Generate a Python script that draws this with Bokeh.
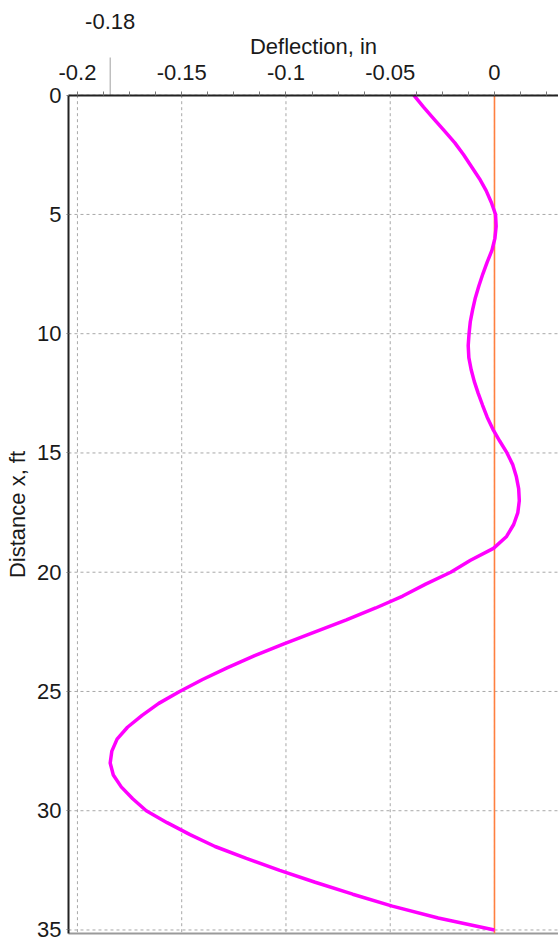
from bokeh.plotting import figure
from bokeh.models import (Range1d, FixedTicker, Label, ColumnDataSource)
from bokeh.embed import file_html
from bokeh.resources import INLINE

# ---- data ----
depth_ft = [0.0, 0.5, 1.0, 1.5, 2.0, 2.5, 3.0, 3.5, 4.0, 4.5,
            5.0, 5.5, 6.0, 6.5, 7.0, 7.5, 8.0, 8.5, 9.0, 9.5,
            10.0, 10.5, 11.0, 11.5, 12.0, 12.5, 13.0, 13.5, 14.0, 14.5,
            15.0, 15.5, 16.0, 16.5, 17.0, 17.5, 18.0, 18.5, 19.0, 19.5,
            20.0, 20.5, 21.0, 21.5, 22.0, 22.5, 23.0, 23.5, 24.0, 24.5,
            25.0, 25.5, 26.0, 26.5, 27.0, 27.5, 28.0, 28.5, 29.0, 29.5,
            30.0, 30.5, 31.0, 31.5, 32.0, 32.5, 33.0, 33.5, 34.0, 34.5, 35.0]
deflection_in = [-0.0387, -0.034, -0.029, -0.024, -0.019, -0.0148, -0.011, -0.0072, -0.004, -0.0015,
                 0.0005, 0.0008, 0.0002, -0.0012, -0.0035, -0.0056, -0.0075, -0.0092, -0.0105, -0.0116,
                 -0.0122, -0.0126, -0.0123, -0.0112, -0.0097, -0.0078, -0.0057, -0.0035, -0.0008, 0.0025,
                 0.006, 0.0088, 0.0105, 0.0116, 0.0119, 0.0112, 0.0092, 0.0058, -0.0005, -0.0115,
                 -0.021, -0.033, -0.044, -0.057, -0.071, -0.086, -0.101, -0.115, -0.128, -0.140,
                 -0.151, -0.161, -0.169, -0.176, -0.181, -0.1835, -0.1843, -0.1828, -0.179, -0.1735,
                 -0.167, -0.157, -0.146, -0.134, -0.119, -0.103, -0.086, -0.068, -0.049, -0.027, 0.0]

max_deflection = -0.1843
max_deflection_label = "-0.18"

x_ticks = [-0.2, -0.15, -0.1, -0.05, 0.0]
x_tick_labels = ["-0.2", "-0.15", "-0.1", "-0.05", "0"]
y_ticks = [0, 5, 10, 15, 20, 25, 30, 35]

FONT = "Liberation Sans"
TXT = "#1a1a1a"
FS = "22px"
GRID = "#a8a8a8"

# plot area limits (data units)
X_AXIS, X1 = -0.2043, 0.0307     # left axis position, right edge
Y_BOTTOM = 35.15                 # bottom edge of the plot area
# canvas extents, so that the axes' texts have room around the plot area
X0 = -0.2369
Y_CANVAS_BOTTOM, Y_CANVAS_TOP = 35.525, -3.970

p = figure(width=558, height=942, output_backend="svg", toolbar_location=None,
           x_axis_location="above",
           x_range=Range1d(X0, X1), y_range=Range1d(Y_CANVAS_BOTTOM, Y_CANVAS_TOP),
           min_border_left=0, min_border_top=0, min_border_right=0, min_border_bottom=0)
p.outline_line_color = None
p.grid.visible = False

# x axis (top), drawn at depth 0
xa = p.xaxis[0]
xa.fixed_location = 0
xa.bounds = (X_AXIS, X1)
minor = []
for i in range(len(x_ticks) - 1):
    for k in range(1, 4):
        minor.append(x_ticks[i] + k * (x_ticks[i + 1] - x_ticks[i]) / 4)
minor += [x_ticks[-1] + 0.0125, x_ticks[-1] + 0.025]
xa.ticker = FixedTicker(ticks=x_ticks, minor_ticks=minor)
xa.major_label_overrides = {t: l for t, l in zip(x_ticks, x_tick_labels)}
xa.axis_label = "Deflection, in"

# y axis (left)
ya = p.yaxis[0]
ya.fixed_location = X_AXIS
ya.bounds = (0, Y_BOTTOM)
ya.ticker = FixedTicker(ticks=y_ticks)
ya.axis_label = "Distance x, ft"

for ax in (xa, ya):
    ax.axis_line_color = "#222222"
    ax.axis_line_width = 2
    ax.major_label_text_font = FONT
    ax.major_label_text_font_size = FS
    ax.major_label_text_color = TXT
    ax.axis_label_text_font = FONT
    ax.axis_label_text_font_size = FS
    ax.axis_label_text_font_style = "normal"
    ax.axis_label_text_color = TXT
    ax.major_tick_line_color = "#777777"
    ax.minor_tick_line_color = "#777777"
    ax.major_tick_in = 0
    ax.minor_tick_in = 0

xa.major_tick_out = 4
xa.minor_tick_out = 4
xa.major_label_standoff = 11
xa.axis_label_standoff = 4
ya.major_tick_out = 2
ya.minor_tick_out = 0
ya.major_label_standoff = 5
ya.axis_label_standoff = 4

# grid (dashed)
p.segment(x0=x_ticks, y0=[0] * len(x_ticks), x1=x_ticks, y1=[Y_BOTTOM] * len(x_ticks),
          line_color=GRID, line_dash="3 3", line_width=1)
p.segment(x0=[X_AXIS] * len(y_ticks), y0=y_ticks, x1=[X1] * len(y_ticks), y1=y_ticks,
          line_color=GRID, line_dash="3 3", line_width=1)

# bottom edge of the plot area
p.segment(x0=[X_AXIS], y0=[Y_BOTTOM], x1=[X1], y1=[Y_BOTTOM], line_color="#9a9a9a", line_width=2)

# zero line
p.segment(x0=[0], y0=[0], x1=[0], y1=[Y_BOTTOM], line_color="#ff8040", line_width=1.6)

# curve
src = ColumnDataSource(dict(x=deflection_in, y=depth_ft))
p.line("x", "y", source=src, line_color="#ff00ff", line_width=3.5)

# max deflection marker above the axis
p.segment(x0=[max_deflection], y0=[-1.58], x1=[max_deflection], y1=[0],
          line_color="#a0a0a0", line_width=1)
p.add_layout(Label(x=max_deflection, y=-3.09, text=max_deflection_label, text_align="center",
                   text_baseline="middle", text_font=FONT, text_font_size=FS, text_color=TXT))

open("out.html", "w").write(file_html(p, INLINE))
